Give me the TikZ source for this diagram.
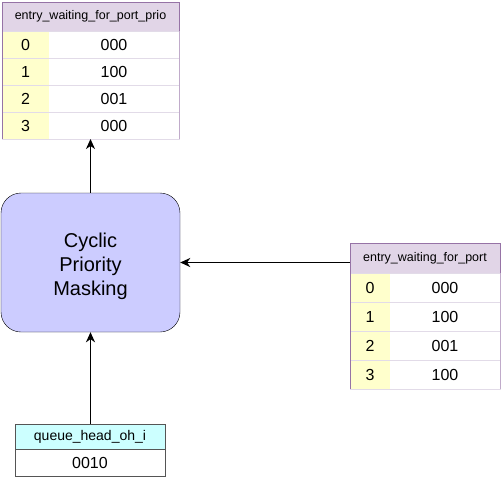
\documentclass[tikz,border=0pt]{standalone}
\usepackage{fontspec}
\setmainfont{Liberation Sans}
\usetikzlibrary{positioning,arrows.meta}
\definecolor{hdrlilac}{HTML}{E1D5E7}
\definecolor{edgelilac}{HTML}{9673A6}
\definecolor{seplilac}{HTML}{E2DBE8}
\definecolor{idxyellow}{HTML}{FFFFCC}
\definecolor{maskblue}{HTML}{CCCCFF}
\definecolor{hdrcyan}{HTML}{CCFFFF}
\definecolor{edgegray}{HTML}{555555}

\begin{document}
\begin{tikzpicture}[x=1pt,y=-1pt,
    cell/.style={anchor=north west, inner sep=0pt, outer sep=0pt},
    hdrcell/.style={cell, draw=edgelilac, fill=hdrlilac, font=\fontsize{12.5}{14}\selectfont},
    idxcell/.style={cell, fill=idxyellow, font=\fontsize{16}{18}\selectfont},
    valcell/.style={cell, font=\fontsize{16}{18}\selectfont},
    rowline/.style={cell, draw=seplilac},
    flow/.style={draw=black, line width=1.6pt, -{Stealth[length=10pt,width=9pt,inset=3pt]}}
  ]
  \useasboundingbox (0,0) rectangle (501,480);

  % mask block
  \node[draw=black, fill=maskblue, rounded corners=20pt, minimum width=179pt, minimum height=139pt,
        inner sep=0pt] (mask) at (90.5,262.5) {};
  \node[align=center, font=\fontsize{20}{24}\selectfont, inner sep=0pt] (maskText)
        at ([yshift=-4pt]mask.center) {Cyclic\\Priority\\Masking};

  % entry_waiting_for_port_prio table
  \node[hdrcell, minimum width=177pt, minimum height=29pt] (prioHdr) at (2,2) {entry\_waiting\_for\_port\_prio};
  \foreach \i/\v in {0/000,1/100,2/001,3/000} {
    \node[idxcell, minimum width=47pt, minimum height=27pt] (prioIdx\i) at (2,31+27*\i) {\i};
    \node[valcell, minimum width=130pt, minimum height=27pt] (prioVal\i) at (49,31+27*\i) {\v};
    \node[rowline, minimum width=177pt, minimum height=27pt] (prioRow\i) at (2,31+27*\i) {};
  }
  \draw[edgelilac] (prioHdr.south west) -- (prioRow3.south west);
  \draw[edgelilac!60] (prioHdr.south east) -- (prioRow3.south east);

  % entry_waiting_for_port table
  \node[hdrcell, minimum width=150pt, minimum height=30pt] (portHdr) at (350,243) {entry\_waiting\_for\_port};
  \foreach \i/\v in {0/000,1/100,2/001,3/100} {
    \node[idxcell, minimum width=40pt, minimum height=29pt] (portIdx\i) at (350,273+29*\i) {\i};
    \node[valcell, minimum width=110pt, minimum height=29pt] (portVal\i) at (390,273+29*\i) {\v};
    \node[rowline, minimum width=150pt, minimum height=29pt] (portRow\i) at (350,273+29*\i) {};
  }
  \draw[edgelilac] (portHdr.south west) -- (portRow3.south west);
  \draw[edgelilac!60] (portHdr.south east) -- (portRow3.south east);

  % queue_head_oh_i table
  \node[cell, draw=edgegray, fill=hdrcyan, minimum width=150pt, minimum height=25pt,
        font=\fontsize{14}{16}\selectfont] (headHdr) at (15,424) {queue\_head\_oh\_i};
  \node[cell, draw=edgegray, minimum width=150pt, minimum height=27pt,
        font=\fontsize{16}{18}\selectfont] (headVal) at (15,449) {0010};

  % connectors
  \draw[flow] (mask.north) -- (prioRow3.south -| mask.north);
  \draw[flow] (portHdr.west |- mask.east) -- (mask.east);
  \draw[flow] (headHdr.north -| mask.south) -- (mask.south);
\end{tikzpicture}
\end{document}
